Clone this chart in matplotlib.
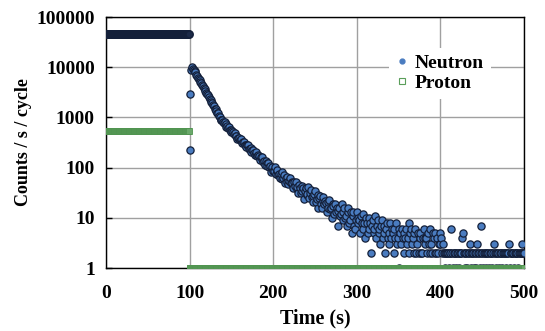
import numpy as np
import matplotlib
matplotlib.use("Agg")
import matplotlib.pyplot as plt
from matplotlib.lines import Line2D
from matplotlib.ticker import FixedLocator, NullLocator

# time axis (s)
time_before = np.arange(0, 100)
time_after = np.arange(100, 501)

# neutron counts / s / cycle, beam on (t = 0..99)
neutron_before = [
    45200, 45300, 45100, 45250, 45200, 45150, 45300, 45200, 45100, 45250,
    45200, 45350, 45150, 45200, 45300, 45100, 45200, 45250, 45150, 45300,
    45200, 45100, 45250, 45200, 45300, 45150, 45200, 45250, 45100, 45200,
    45300, 45200, 45150, 45250, 45200, 45100, 45300, 45200, 45250, 45150,
    45200, 45300, 45100, 45200, 45250, 45150, 45200, 45300, 45200, 45100,
    45250, 45200, 45150, 45300, 45200, 45250, 45100, 45200, 45300, 45150,
    45200, 45250, 45200, 45100, 45300, 45200, 45150, 45250, 45200, 45300,
    45100, 45200, 45250, 45150, 45200, 45300, 45200, 45100, 45250, 45200,
    45150, 45300, 45200, 45250, 45100, 45200, 45300, 45150, 45200, 45250,
    45200, 45100, 45300, 45200, 45150, 45250, 45200, 45300, 45100, 45200,
]

# neutron counts after beam off (t = 100..500)
neutron_after = [
    224, 2900, 8700, 10230, 9413, 8955, 8272, 7862, 7159, 6738,
    6199, 5959, 5520, 5063, 4863, 4440, 4199, 3774, 3632, 3438,
    3132, 2935, 2839, 2565, 2316, 2248, 2051, 1976, 1755, 1664,
    1495, 1474, 1355, 1222, 1201, 1070, 1019, 897, 908, 886,
    799, 777, 800, 725, 659, 681, 628, 644, 568, 560,
    505, 537, 506, 460, 486, 436, 437, 375, 397, 397,
    353, 349, 374, 311, 325, 328, 288, 285, 255, 277,
    283, 237, 237, 246, 202, 222, 224, 194, 181, 191,
    201, 172, 178, 168, 144, 163, 146, 161, 131, 134,
    113, 134, 124, 107, 124, 104, 110, 83, 98, 103,
    84, 86, 101, 74, 84, 90, 73, 74, 62, 76,
    81, 60, 63, 70, 49, 63, 66, 52, 48, 55,
    62, 49, 53, 50, 39, 51, 43, 53, 38, 42,
    31, 45, 40, 32, 43, 34, 39, 24, 34, 39,
    29, 30, 42, 25, 32, 36, 26, 27, 21, 30,
    34, 21, 24, 28, 16, 25, 27, 19, 16, 22,
    26, 19, 22, 20, 13, 21, 16, 23, 15, 16,
    10, 19, 17, 12, 19, 13, 16, 7, 14, 16,
    11, 12, 19, 9, 13, 16, 10, 11, 7, 13,
    16, 8, 9, 13, 5, 11, 13, 7, 6, 9,
    13, 8, 10, 9, 5, 11, 8, 12, 6, 8,
    4, 10, 8, 5, 10, 6, 8, 2, 7, 9,
    5, 6, 11, 4, 7, 9, 5, 6, 3, 7,
    9, 4, 5, 7, 2, 6, 8, 4, 3, 5,
    8, 4, 6, 5, 2, 6, 4, 8, 3, 4,
    1, 6, 5, 3, 6, 4, 5, 2, 4, 6,
    3, 4, 8, 2, 5, 6, 3, 4, 2, 5,
    6, 2, 3, 5, 2, 4, 5, 2, 2, 4,
    6, 3, 4, 4, 2, 5, 3, 6, 2, 3,
    2, 5, 4, 2, 5, 2, 4, 2, 3, 5,
    3, 4, 2, 3, 2, 2, 1, 2, 2, 2,
    1, 2, 2, 6, 2, 1, 2, 2, 2, 1,
    2, 2, 1, 2, 2, 2, 4, 5, 2, 1,
    2, 2, 1, 2, 2, 3, 2, 1, 2, 2,
    1, 2, 2, 1, 3, 2, 2, 1, 7, 2,
    2, 1, 2, 2, 2, 1, 2, 2, 1, 2,
    2, 2, 1, 2, 3, 2, 1, 2, 2, 2,
    1, 2, 2, 2, 1, 2, 2, 2, 1, 2,
    2, 2, 3, 1, 2, 2, 2, 2, 1, 2,
    2, 2, 2, 1, 2, 2, 2, 3, 2, 2,
    2,
]

# proton counts / s / cycle
proton_before = [
    540, 540, 545, 540, 535, 540, 540, 545, 540, 540,
    535, 540, 540, 545, 540, 540, 540, 535, 540, 545,
    540, 540, 540, 545, 535, 540, 540, 540, 545, 540,
    540, 535, 540, 540, 545, 540, 540, 540, 535, 540,
    545, 540, 540, 540, 535, 540, 545, 540, 540, 540,
    540, 535, 540, 545, 540, 540, 540, 540, 535, 540,
    545, 540, 540, 540, 540, 535, 540, 545, 540, 540,
    540, 540, 535, 540, 545, 540, 540, 540, 540, 535,
    540, 545, 540, 540, 540, 540, 535, 540, 545, 540,
    540, 540, 540, 535, 540, 545, 540, 540, 540, 540,
]
proton_after = [
    1, 1, 1, 1, 1, 1, 1, 1, 1, 1, 1, 1, 1, 1, 1, 1, 1, 1, 1, 1,
    1, 1, 1, 1, 1, 1, 1, 1, 1, 1, 1, 1, 1, 1, 1, 1, 1, 1, 1, 1,
    1, 1, 1, 1, 1, 1, 1, 1, 1, 1, 1, 1, 1, 1, 1, 1, 1, 1, 1, 1,
    1, 1, 1, 1, 1, 1, 1, 1, 1, 1, 1, 1, 1, 1, 1, 1, 1, 1, 1, 1,
    1, 1, 1, 1, 1, 1, 1, 1, 1, 1, 1, 1, 1, 1, 1, 1, 1, 1, 1, 1,
    1, 1, 1, 1, 1, 1, 1, 1, 1, 1, 1, 1, 1, 1, 1, 1, 1, 1, 1, 1,
    1, 1, 1, 1, 1, 1, 1, 1, 1, 1, 1, 1, 1, 1, 1, 1, 1, 1, 1, 1,
    1, 1, 1, 1, 1, 1, 1, 1, 1, 1, 1, 1, 1, 1, 1, 1, 1, 1, 1, 1,
    1, 1, 1, 1, 1, 1, 1, 1, 1, 1, 1, 1, 1, 1, 1, 1, 1, 1, 1, 1,
    1, 1, 1, 1, 1, 1, 1, 1, 1, 1, 1, 1, 1, 1, 1, 1, 1, 1, 1, 1,
    1, 1, 1, 1, 1, 1, 1, 1, 1, 1, 1, 1, 1, 1, 1, 1, 1, 1, 1, 1,
    1, 1, 1, 1, 1, 1, 1, 1, 1, 1, 1, 1, 1, 1, 1, 1, 1, 1, 1, 1,
    1, 1, 1, 1, 1, 1, 1, 1, 1, 1, 1, 1, 1, 1, 1, 1, 1, 1, 1, 1,
    1, 1, 1, 1, 1, 1, 1, 1, 1, 1, 1, 1, 1, 1, 1, 1, 1, 1, 1, 1,
    1, 1, 1, 1, 1, 1, 1, 1, 1, 1, 1, 1, 1, 1, 1, 1, 1, 1, 1, 1,
    1, 1, 1, 1, 1, 1, 1, 1, 1, 1, 1, 1, 1, 1, 1, 1, 1, 1, 1, 1,
    1, 1, 1, 1, 1, 1, 1, 1, 1, 1, 1, 1, 1, 1, 1, 1, 1, 1, 1, 1,
    1, 1, 1, 1, 1, 1, 1, 1, 1, 1, 1, 1, 1, 1, 1, 1, 1, 1, 1, 1,
    1, 1, 1, 1, 1, 1, 1, 1, 1, 1, 1, 1, 1, 1, 1, 1, 1, 1, 1, 1,
    1, 1, 1, 1, 1, 1, 1, 1, 1, 1, 1, 1, 1, 1, 1, 1, 1, 1, 1, 1,
    1,
]

x_ticks = [0, 100, 200, 300, 400, 500]
y_ticks = [1, 10, 100, 1000, 10000, 100000]

plt.rcParams['font.family'] = ['Liberation Serif', 'DejaVu Serif']
plt.rcParams['font.weight'] = 'bold'

fig = plt.figure(figsize=(5.45, 3.31), dpi=100)
ax = fig.add_axes([0.1945, 0.19, 0.767, 0.7586])

n_kw = dict(linestyle='none', marker='o', markersize=5.2,
            markerfacecolor='#4a7cc0', markeredgecolor='#14203a',
            markeredgewidth=0.9, zorder=3)
p_kw = dict(linestyle='none', marker='s', markersize=5.0,
            markerfacecolor='#6aa86a', markeredgecolor='#4f934f',
            markeredgewidth=0.6, zorder=4)

# beam-on plateau: densely overlapping markers read as a dark band
ax.plot(time_before, neutron_before,
        **dict(n_kw, markerfacecolor='#1c2a48', markeredgewidth=1.2))
ax.plot(time_after, neutron_after, **n_kw)
ax.plot(time_before, proton_before, **p_kw)
ax.plot(time_after, proton_after, **p_kw)

ax.set_yscale('log')
ax.set_xlim(0, 500)
ax.set_ylim(1, 100000)
ax.xaxis.set_major_locator(FixedLocator(x_ticks))
ax.yaxis.set_major_locator(FixedLocator(y_ticks))
ax.yaxis.set_minor_locator(NullLocator())
ax.set_xticklabels([str(v) for v in x_ticks])
ax.set_yticklabels([str(v) for v in y_ticks])
ax.tick_params(axis='y', direction='in', length=4, width=1, labelsize=14, pad=8)
ax.tick_params(axis='x', length=0, labelsize=14, pad=12)

ax.grid(True, color='#a0a0a0', linewidth=1.0, zorder=0)
ax.set_axisbelow(True)
for s in ax.spines.values():
    s.set_color('black')
    s.set_linewidth(1.0)

ax.set_xlabel('Time (s)', fontsize=14.5, fontweight='bold', labelpad=5)
ax.set_ylabel('Counts / s / cycle', fontsize=13, fontweight='bold', labelpad=3)

handles = [
    Line2D([], [], linestyle='none', marker='o', markersize=3.5,
           markerfacecolor='#4a7cc0', markeredgecolor='#4a7cc0'),
    Line2D([], [], linestyle='none', marker='s', markersize=4.0,
           markerfacecolor='white', markeredgecolor='#5a9e5a', markeredgewidth=0.8),
]
leg = ax.legend(handles, ['Neutron', 'Proton'], loc='center',
                bbox_to_anchor=(0.799, 0.776), frameon=True, fancybox=False,
                framealpha=1, facecolor='white', edgecolor='none',
                fontsize=14, handlelength=0.6, handletextpad=0.35,
                labelspacing=0.12, borderpad=0.35, borderaxespad=0)
for txt in leg.get_texts():
    txt.set_fontweight('bold')

fig.savefig('out.png', dpi=100)
